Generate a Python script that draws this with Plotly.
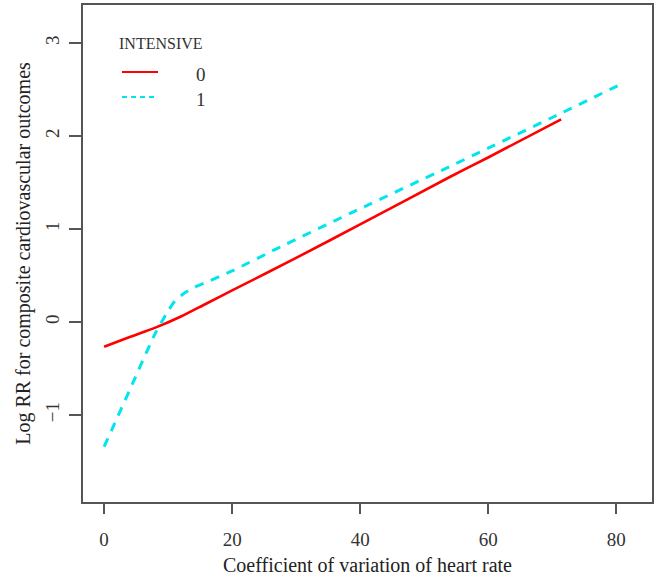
import plotly.graph_objects as go

# INTENSIVE = 0 (red solid)
x0 = [0, 4, 8, 12, 16, 20, 30, 40, 54, 60, 71.4]
y0 = [-0.265, -0.16, -0.06, 0.06, 0.20, 0.34, 0.69, 1.05, 1.56, 1.77, 2.18]
# INTENSIVE = 1 (cyan dashed)
x1 = [0, 4, 8, 10, 11, 12.5, 14, 16, 20, 27, 40, 53, 60, 70, 81.1]
y1 = [-1.34, -0.73, -0.12, 0.12, 0.22, 0.31, 0.37, 0.43, 0.55, 0.79, 1.22, 1.64, 1.87, 2.2, 2.57]

x_ticks = [0, 20, 40, 60, 80]
y_ticks = [-1, 0, 1, 2, 3]
y_tick_text = ["\u22121", "0", "1", "2", "3"]
legend_title = "INTENSIVE"
legend_labels = ["0", "1"]
colors = ["#ff0000", "#00e5ee"]

FONT = "Liberation Serif"
AX = "#555555"

fig = go.Figure()
fig.add_trace(go.Scatter(x=x0, y=y0, mode="lines", line=dict(color=colors[0], width=2.6, shape="spline", smoothing=0.8), showlegend=False))
fig.add_trace(go.Scatter(x=x1, y=y1, mode="lines", line=dict(color=colors[1], width=3, dash="9px,8px", shape="spline", smoothing=0.6), showlegend=False))

axis_common = dict(showline=True, mirror=True, linecolor=AX, linewidth=1.5,
                   ticks="outside", tickcolor=AX, tickwidth=1.5,
                   showgrid=False, zeroline=False, automargin=False,
                   tickfont=dict(family=FONT, size=19, color="#333333"))

fig.update_xaxes(range=[-3.3, 85.6], tickvals=x_ticks, ticklen=10, ticklabelstandoff=9,
                 title=dict(text="Coefficient of variation of heart rate", font=dict(family=FONT, size=20, color="#222222"), standoff=9),
                 **axis_common)
fig.update_yaxes(range=[-1.935, 3.41], tickvals=y_ticks, ticktext=y_tick_text, tickangle=-90,
                 ticklen=12, ticklabelstandoff=3,
                 title=dict(text="Log RR for composite cardiovascular outcomes", font=dict(family=FONT, size=20, color="#222222"), standoff=6),
                 **axis_common)

# legend drawn manually (R-style)
W, H = 661, 577
l, r, t, b = 83, 9, 5, 75
pw, ph = W - l - r, H - t - b
def px(xp): return (xp - l) / pw
def py(yp): return 1 - (yp - t) / ph

fig.add_annotation(x=px(117), y=py(43), xref="paper", yref="paper", text=legend_title, showarrow=False,
                   xanchor="left", yanchor="middle", font=dict(family=FONT, size=16, color="#333333"))
for i, (lab, c) in enumerate(zip(legend_labels, colors)):
    yy = 72 + i * 25
    fig.add_shape(type="line", xref="paper", yref="paper", x0=px(122), x1=px(158), y0=py(yy), y1=py(yy),
                  line=dict(color=c, width=2.2, dash="solid" if i == 0 else "5px,4px"))
    fig.add_annotation(x=px(201), y=py(yy + 2), xref="paper", yref="paper", text=lab, showarrow=False,
                       xanchor="center", yanchor="middle", font=dict(family=FONT, size=19, color="#333333"))

fig.update_layout(width=W, height=H, margin=dict(l=l, r=r, t=t, b=b, autoexpand=False),
                  paper_bgcolor="white", plot_bgcolor="white", showlegend=False)

fig.write_html("out.html", config={"displayModeBar": False},
               post_script="document.body.style.margin='0';document.body.style.overflow='hidden';")
